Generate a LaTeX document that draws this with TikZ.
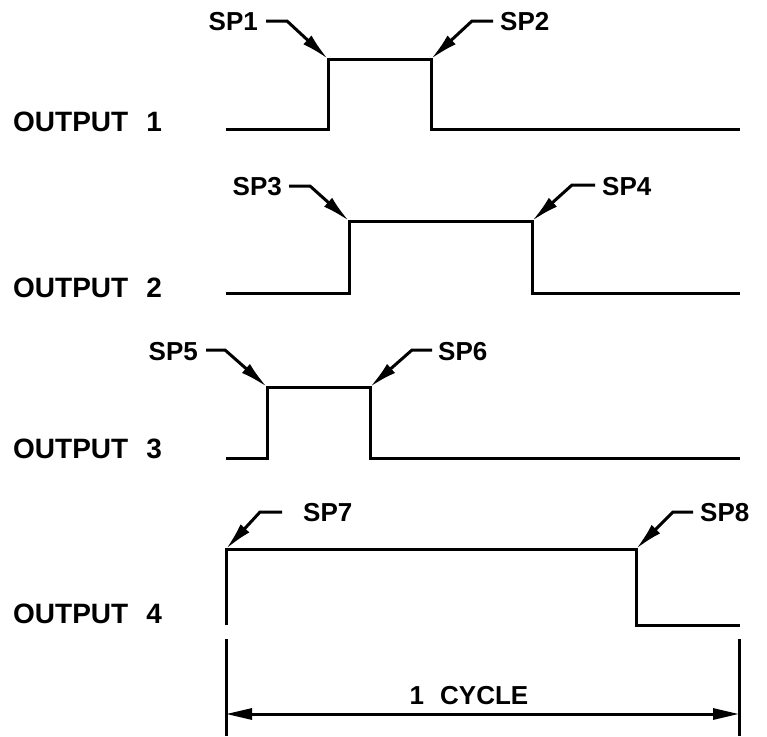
\documentclass[tikz,border=0pt]{standalone}
\usepackage{fontspec}
\setmainfont{Liberation Sans}
\usetikzlibrary{arrows.meta}
\begin{document}
\begin{tikzpicture}[x=1pt,y=-1pt,
  wave/.style={line width=3pt, line join=miter},
  lead/.style={line width=3pt, line join=miter, -{Latex[length=28pt,width=12pt]}},
  dimline/.style={line width=3pt},
  dimarrow/.style={line width=3pt, {Triangle[length=26pt,width=11pt]}-{Triangle[length=26pt,width=11pt]}},
  outlbl/.style={font=\bfseries\fontsize{28}{30}\selectfont, inner sep=0pt, anchor=west},
  splbl/.style={font=\bfseries\fontsize{26}{28}\selectfont, inner sep=0pt}]
\useasboundingbox (0,0) rectangle (767,736);

% output labels
\node[outlbl] (o1) at (13,122) {OUTPUT\hspace{18pt}1};
\node[outlbl] (o2) at (13,288) {OUTPUT\hspace{18pt}2};
\node[outlbl] (o3) at (13,449) {OUTPUT\hspace{18pt}3};
\node[outlbl] (o4) at (13,614) {OUTPUT\hspace{18pt}4};

% waveform 1
\coordinate (w1a) at (226,129);
\coordinate (w1b) at (328,129);
\coordinate (w1c) at (328,59);
\coordinate (w1d) at (431,59);
\coordinate (w1e) at (431,129);
\coordinate (w1f) at (740,129);
\draw[wave] (w1a) -- (w1b) -- (w1c) -- (w1d) -- (w1e) -- (w1f);

% waveform 2
\coordinate (w2a) at (226,293);
\coordinate (w2b) at (349,293);
\coordinate (w2c) at (349,221);
\coordinate (w2d) at (532,221);
\coordinate (w2e) at (532,293);
\coordinate (w2f) at (740,293);
\draw[wave] (w2a) -- (w2b) -- (w2c) -- (w2d) -- (w2e) -- (w2f);

% waveform 3
\coordinate (w3a) at (226,458);
\coordinate (w3b) at (267,458);
\coordinate (w3c) at (267,387);
\coordinate (w3d) at (370,387);
\coordinate (w3e) at (370,458);
\coordinate (w3f) at (740,458);
\draw[wave] (w3a) -- (w3b) -- (w3c) -- (w3d) -- (w3e) -- (w3f);

% waveform 4
\coordinate (w4a) at (226,625);
\coordinate (w4c) at (226,549);
\coordinate (w4d) at (636,549);
\coordinate (w4e) at (636,625);
\coordinate (w4f) at (740,625);
\draw[wave] (w4a) -- (w4c) -- (w4d) -- (w4e) -- (w4f);

% set point labels and leaders
\node[splbl, anchor=east] (sp1) at (258,22) {SP1};
\coordinate (k1) at (287,21);
\draw[lead] ([xshift=8pt]sp1.east |- k1) -- (k1) -- (w1c);

\node[splbl, anchor=west] (sp2) at (500,22) {SP2};
\coordinate (k2) at (472,21);
\draw[lead] ([xshift=-7pt]sp2.west |- k2) -- (k2) -- (w1d);

\node[splbl, anchor=east] (sp3) at (282,187) {SP3};
\coordinate (k3) at (310,186);
\draw[lead] ([xshift=7pt]sp3.east |- k3) -- (k3) -- (w2c);

\node[splbl, anchor=west] (sp4) at (602,187) {SP4};
\coordinate (k4) at (572,185);
\draw[lead] ([xshift=-7pt]sp4.west |- k4) -- (k4) -- (w2d);

\node[splbl, anchor=east] (sp5) at (198,352) {SP5};
\coordinate (k5) at (225,350);
\draw[lead] ([xshift=8pt]sp5.east |- k5) -- (k5) -- (w3c);

\node[splbl, anchor=west] (sp6) at (438,352) {SP6};
\coordinate (k6) at (412,350);
\draw[lead] ([xshift=-6pt]sp6.west |- k6) -- (k6) -- (w3d);

\node[splbl, anchor=west] (sp7) at (303,513) {SP7};
\coordinate (k7) at (260,512);
\draw[lead] ([xshift=-21pt]sp7.west |- k7) -- (k7) -- (w4c);

\node[splbl, anchor=west] (sp8) at (700,513) {SP8};
\coordinate (k8) at (673,512);
\draw[lead] ([xshift=-7pt]sp8.west |- k8) -- (k8) -- (w4d);

% cycle dimension
\coordinate (d1t) at (226,639);
\coordinate (d1b) at (226,736);
\coordinate (d2t) at (739,639);
\coordinate (d2b) at (739,736);
\draw[dimline] (d1t) -- (d1b);
\draw[dimline] (d2t) -- (d2b);
\coordinate (da) at (226,714);
\coordinate (db) at (739,714);
\draw[dimarrow] (da) -- (db);
\node[splbl] (cyc) at (469,696) {1\hspace{16pt}CYCLE};
\end{tikzpicture}
\end{document}
